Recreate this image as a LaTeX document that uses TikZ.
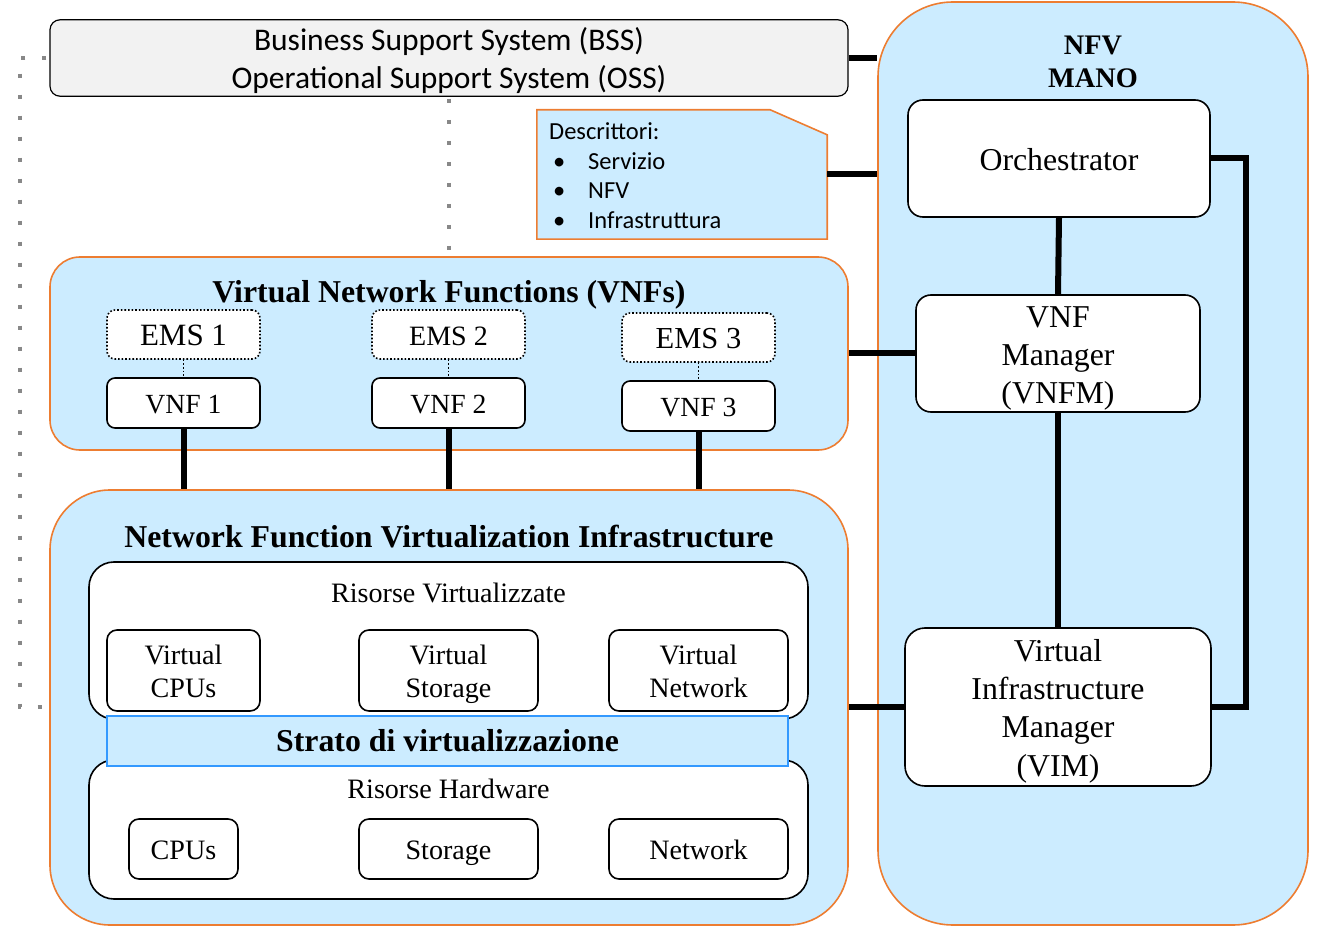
\documentclass[tikz,border=0pt]{standalone}
\usepackage{fontspec}
\setmainfont{Liberation Serif}
\newfontfamily\carlito{Carlito}
\definecolor{lblue}{RGB}{204,236,255}
\definecolor{orng}{RGB}{237,125,49}
\definecolor{sblue}{RGB}{51,153,255}
\definecolor{dotgray}{RGB}{136,136,136}
\definecolor{bssfill}{RGB}{242,242,242}
\newcommand{\fs}[2]{\fontsize{#1}{#2}\selectfont}
\newcommand{\tp}{\rule{0pt}{\dimexpr0.6\baselineskip+8pt\relax}}
\tikzset{
  txt/.style={execute at begin node={\tp},
              execute at end node={\rule[-0.2\baselineskip]{0pt}{0pt}}},
  bigbox/.style={draw=orng, line width=1.6pt, fill=lblue, inner sep=0pt},
  wbox/.style={draw=black, line width=1.6pt, fill=white, inner sep=0pt, align=center, txt},
  emsbox/.style={draw=black, line width=1.6pt, dotted, fill=white, inner sep=0pt, align=center, txt},
  thick line/.style={line width=6pt},
  gdots/.style={draw=dotgray, line width=4pt, dash pattern=on 4pt off 17pt},
}
\begin{document}
\begin{tikzpicture}[x=1pt,y=-1pt]
\useasboundingbox (0,0) rectangle (1318,933);

% big containers
\node[bigbox, rounded corners=75pt, minimum width=430pt, minimum height=923pt] (mano) at (1093,463.5) {};
\node[bigbox, rounded corners=30pt, minimum width=798pt, minimum height=193pt] (vnfbox) at (449,353.5) {};
\node[bigbox, rounded corners=60pt, minimum width=798pt, minimum height=435pt] (nfvi) at (449,707.5) {};
\node[draw=black, line width=1.2pt, fill=bssfill, rounded corners=10pt, minimum width=798pt, minimum height=76pt, inner sep=0pt, align=center, txt, font=\carlito\fs{31.5}{38}] (bss) at (449,58) {\tp Business Support System (BSS)\\Operational Support System (OSS)};

% descriptor box
\node[minimum width=290pt, minimum height=129pt, inner sep=0pt] (desc) at (682,174.5) {};
\draw[draw=orng, line width=1.6pt, fill=lblue] (desc.south west) -- (desc.north west) -- ([xshift=-57pt]desc.north east) -- ([yshift=-25pt]desc.north east) -- (desc.south east) -- cycle;
\node[anchor=north west, inner sep=0pt, align=left, font=\carlito\fs{24.5}{29.7}] (desctext) at (549,122.5) {Descrittori:\\
\hbox to 39pt{\hspace{4pt}•\hfil}Servizio\\
\hbox to 39pt{\hspace{4pt}•\hfil}NFV\\
\hbox to 39pt{\hspace{4pt}•\hfil}Infrastruttura};

% titles
\node[font=\bfseries\fs{28.3}{33}, align=center] (manotitle) at (1093,61.5) {NFV\\MANO};
\node[font=\bfseries\fs{31.8}{36}] (vnftitle) at (449,295) {Virtual Network Functions (VNFs)};
\node[font=\bfseries\fs{31.8}{36}] (nfvititle) at (449,537) {Network Function Virtualization Infrastructure};

% MANO boxes
\node[wbox, rounded corners=15pt, minimum width=302pt, minimum height=117pt, font=\fs{31.8}{38}] (orch) at (1059,158.5) {Orchestrator};
\node[wbox, rounded corners=15pt, minimum width=284pt, minimum height=117pt, font=\fs{31.8}{38}] (vnfm) at (1058,353.5) {\tp VNF\\Manager\\(VNFM)};
\node[wbox, rounded corners=20pt, minimum width=306pt, minimum height=158pt, font=\fs{31.8}{38.3}] (vim) at (1058,707) {\tp Virtual\\Infrastructure\\Manager\\(VIM)};

% EMS and VNF
\node[emsbox, rounded corners=8pt, minimum width=153pt, minimum height=49pt, font=\fs{31}{36}] (ems1) at (183.5,334.5) {EMS 1};
\node[emsbox, rounded corners=8pt, minimum width=153pt, minimum height=49pt, font=\fs{28}{34}] (ems2) at (448.5,334.5) {EMS 2};
\node[emsbox, rounded corners=8pt, minimum width=153pt, minimum height=49pt, font=\fs{30.5}{36}] (ems3) at (698.5,337.5) {EMS 3};
\node[wbox, rounded corners=8pt, minimum width=153pt, minimum height=50pt, font=\fs{27.7}{33}] (vnf1) at (183.5,403) {VNF 1};
\node[wbox, rounded corners=8pt, minimum width=153pt, minimum height=50pt, font=\fs{27.7}{33}] (vnf2) at (448.5,403) {VNF 2};
\node[wbox, rounded corners=8pt, minimum width=153pt, minimum height=50pt, font=\fs{27.7}{33}] (vnf3) at (698.5,406) {VNF 3};

% NFVI internals
\node[draw=black, line width=1.6pt, fill=white, inner sep=0pt, rounded corners=25pt, minimum width=719pt, minimum height=157pt] (rv) at (448.5,640.5) {};
\node[font=\fs{28.1}{33}] (rvt) at (448.5,593) {Risorse Virtualizzate};
\node[draw=black, line width=1.6pt, fill=white, inner sep=0pt, rounded corners=25pt, minimum width=719pt, minimum height=139pt] (rh) at (448.5,829.5) {};
\node[font=\fs{28.1}{33}] (rht) at (448.5,789) {Risorse Hardware};
\node[wbox, rounded corners=10pt, minimum width=153pt, minimum height=81pt, font=\fs{28.1}{33}] (vcpu) at (183.5,670.5) {\tp Virtual\\CPUs};
\node[wbox, rounded corners=10pt, minimum width=179pt, minimum height=81pt, font=\fs{28.1}{33}] (vsto) at (448.5,670.5) {\tp Virtual\\Storage};
\node[wbox, rounded corners=10pt, minimum width=179pt, minimum height=81pt, font=\fs{28.1}{33}] (vnet) at (698.5,670.5) {\tp Virtual\\Network};
\node[wbox, rounded corners=10pt, minimum width=109pt, minimum height=60pt, font=\fs{28.1}{33}] (cpu) at (183.5,849) {CPUs};
\node[wbox, rounded corners=10pt, minimum width=179pt, minimum height=60pt, font=\fs{28.1}{33}] (sto) at (448.5,849) {Storage};
\node[wbox, rounded corners=10pt, minimum width=179pt, minimum height=60pt, font=\fs{28.1}{33}] (net) at (698.5,849) {Network};
\node[draw=sblue, line width=1.4pt, fill=lblue, minimum width=681pt, minimum height=50pt, inner sep=0pt, font=\bfseries\fs{31.8}{36}] (strato) at (447.5,741) {Strato di virtualizzazione};

% connectors
\draw[thick line] (bss.east) -- (bss.east -| mano.west);
\draw[thick line] (desc.east) -- (desc.east -| mano.west);
\draw[thick line] (vnfm.west) -- (vnfm.west -| vnfbox.east);
\draw[thick line] (vim.west) -- (vim.west -| nfvi.east);
\draw[thick line] (orch.south) -- (vnfm.north);
\draw[thick line] (vnfm.south) -- (vim.north);
\draw[thick line, line join=miter] (orch.east) -| ([xshift=34pt]vim.east) -- (vim.east);
\draw[thick line] (vnf1.south) -- (vnf1.south |- nfvi.north);
\draw[thick line] (vnf2.south) -- (vnf2.south |- nfvi.north);
\draw[thick line] (vnf3.south) -- (vnf3.south |- nfvi.north);
\draw[line width=1.6pt, dotted] (ems1.south) -- (vnf1.north);
\draw[line width=1.6pt, dotted] (ems2.south) -- (vnf2.north);
\draw[line width=1.6pt, dotted] (ems3.south) -- (vnf3.north);

% gray dotted links
\coordinate (dl) at (20,707);
\draw[gdots] ([xshift=-3pt]bss.west) -| (dl) -- ([xshift=-3pt]nfvi.west |- dl);
\draw[gdots] ([yshift=-2pt]bss.south) -- (vnfbox.north);
\end{tikzpicture}
\end{document}
